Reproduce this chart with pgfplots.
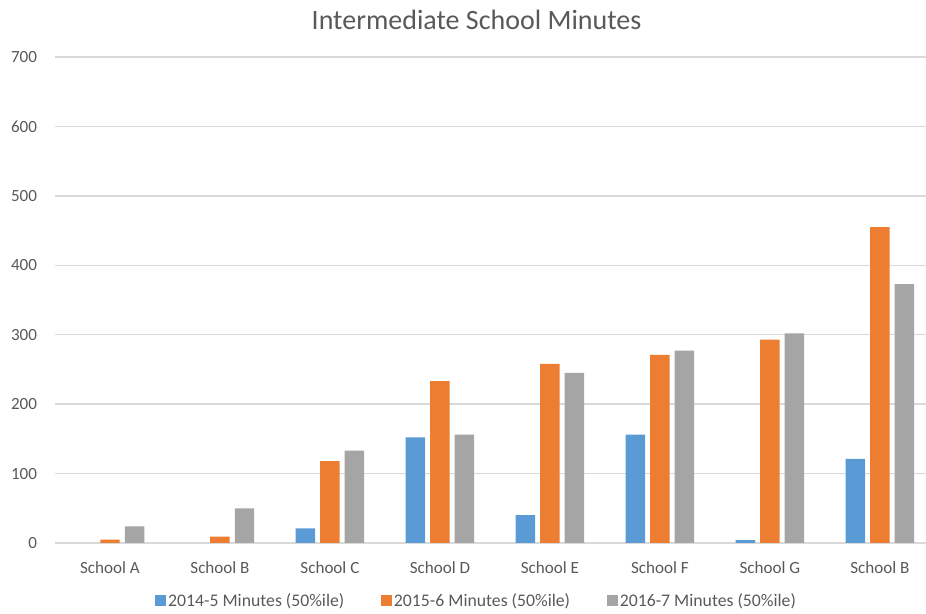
\documentclass[border=0pt]{standalone}
\usepackage{pgfplots}
\pgfplotsset{compat=1.18}
\usepackage{fontspec}
\setmainfont{Carlito}
\definecolor{cBlue}{HTML}{5B9BD5}
\definecolor{cOrange}{HTML}{ED7D31}
\definecolor{cGray}{HTML}{A5A5A5}
\definecolor{cGrid}{HTML}{D9D9D9}
\definecolor{cText}{HTML}{595959}
\begin{document}
\begin{tikzpicture}
\useasboundingbox (0,0) rectangle (694.5pt,460.5pt);
\begin{axis}[
  at={(41.25pt,53.25pt)}, anchor=south west,
  scale only axis,
  width=653.25pt, height=364.5pt,
  xmin=-0.5, xmax=7.42,
  ymin=0, ymax=700,
  ytick={0,100,...,700},
  xtick={0,...,7},
  xticklabels={School A,School B,School C,School D,School E,School F,School G,School B},
  ybar=3.8pt, bar width=14.6pt,
  axis line style={draw=none},
  major tick length=0pt,
  ymajorgrids, major grid style={cGrid, line width=1.1pt},
  /pgf/number format/assume math mode=true,
  tick label style={font=\fontsize{12.8}{14}\selectfont, text=cText},
  yticklabel style={anchor=east, inner sep=0pt, xshift=-13.3pt},
  xticklabel style={anchor=north, inner sep=0pt, yshift=-14pt},
  title={Intermediate School Minutes},
  title style={at={(0.484,1.06)}, anchor=center, font=\fontsize{21}{25}\selectfont, text=cText},
  legend columns=3,
  legend style={at={(0.484,-0.119)}, anchor=center, draw=none, fill=none,
    font=\fontsize{13.3}{15}\selectfont, text=cText,
    /tikz/every even column/.append style={column sep=26pt},
    nodes={inner sep=1.5pt}},
  legend image code/.code={\fill[#1] (0pt,-4.1pt) rectangle (8.25pt,4.15pt);},
]
\addplot[fill=cBlue, draw=none] coordinates {(2,21) (3,152) (4,40) (5,156) (6,4) (7,121)};
\addplot[fill=cOrange, draw=none] coordinates {(0,5) (1,9) (2,118) (3,233) (4,258) (5,271) (6,293) (7,455)};
\addplot[fill=cGray, draw=none] coordinates {(0,24) (1,50) (2,133) (3,156) (4,245) (5,277) (6,302) (7,373)};
\legend{2014-5 Minutes (50\%ile),2015-6 Minutes (50\%ile),2016-7 Minutes (50\%ile)}
\end{axis}
\end{tikzpicture}
\end{document}
